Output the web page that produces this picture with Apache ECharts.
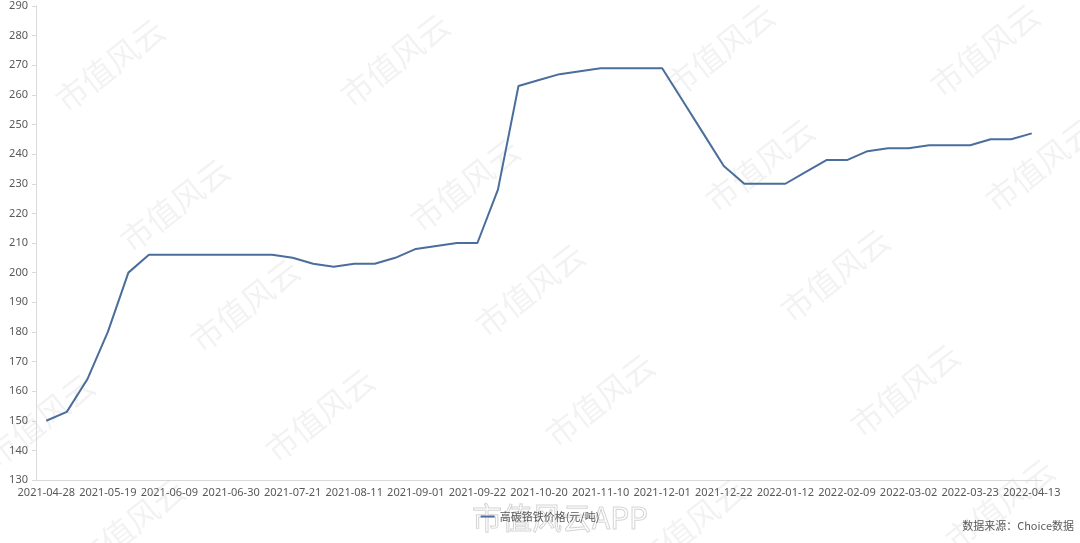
<!DOCTYPE html>
<html>
<head>
<meta charset="utf-8">
<script src="https://cdn.jsdelivr.net/npm/echarts@6/dist/echarts.min.js"></script>
<style>
html,body{margin:0;padding:0;background:#fff;}
#chart{width:1080px;height:543px;}
</style>
</head>
<body>
<div id="chart"></div>
<script>
const dates = [
  '2021-04-28','2021-05-05','2021-05-12','2021-05-19','2021-05-26','2021-06-02','2021-06-09',
  '2021-06-16','2021-06-23','2021-06-30','2021-07-07','2021-07-14','2021-07-21','2021-07-28',
  '2021-08-04','2021-08-11','2021-08-18','2021-08-25','2021-09-01','2021-09-08','2021-09-15',
  '2021-09-22','2021-09-29','2021-10-13','2021-10-20','2021-10-27','2021-11-03','2021-11-10',
  '2021-11-17','2021-11-24','2021-12-01','2021-12-08','2021-12-15','2021-12-22','2021-12-29',
  '2022-01-05','2022-01-12','2022-01-19','2022-01-26','2022-02-09','2022-02-16','2022-02-23',
  '2022-03-02','2022-03-09','2022-03-16','2022-03-23','2022-03-30','2022-04-06','2022-04-13'
];
const prices = [
  150,153,164,180,200,206,206,
  206,206,206,206,206,205,203,
  202,203,203,205,208,209,210,
  210,228,263,265,267,268,269,
  269,269,269,258,247,236,230,
  230,230,234,238,238,241,242,
  242,243,243,243,245,245,247
];
const seriesName = '高碳铬铁价格(元/吨)';
const sourceText = '数据来源：Choice数据';
const watermarkText = '市值风云';
const watermarkPos = [
  [110,65],[395,60],[720,50],[985,50],
  [175,205],[465,185],[760,165],[1040,165],
  [245,305],[530,290],[835,275],
  [40,420],[320,415],[600,400],[905,390],
  [130,525],[690,525],[1000,505]
];

const chart = echarts.init(document.getElementById('chart'));
const wm = watermarkPos.map(p => ({
  type: 'text', x: p[0], y: p[1], rotation: Math.PI * 38 / 180, z: -10,
  style: { text: watermarkText, fill: 'rgba(0,0,0,0.05)', font: '32px "Noto Sans CJK SC"', align: 'center', verticalAlign: 'middle' }
}));
wm.push({
  type: 'text', x: 560, y: 518, z: -10,
  style: { text: '市值风云APP', fill: 'rgba(255,255,255,0)', stroke: 'rgba(0,0,0,0.18)', lineWidth: 1, font: '30px "Noto Sans CJK SC"', align: 'center', verticalAlign: 'middle' }
});
wm.push({
  type: 'text', right: 6, top: 520,
  style: { text: sourceText, fill: '#595959', font: '11px "Noto Sans CJK SC"' }
});

chart.setOption({
  animation: false,
  backgroundColor: '#ffffff',
  grid: { left: 36, right: 38, top: 6, bottom: 63, containLabel: false },
  legend: {
    bottom: 16, left: 'center',
    itemWidth: 14, itemHeight: 2,
    icon: 'rect',
    textStyle: { color: '#595959', fontSize: 11, fontFamily: 'Noto Sans CJK SC' },
    data: [seriesName]
  },
  xAxis: {
    type: 'category',
    data: dates,
    boundaryGap: true,
    axisLine: { lineStyle: { color: '#d9d9d9' } },
    axisTick: { alignWithLabel: true, interval: 2, length: 4, lineStyle: { color: '#d9d9d9' } },
    axisLabel: { interval: 2, color: '#595959', fontSize: 11, fontFamily: 'Noto Sans, sans-serif', margin: 7 },
    splitLine: { show: false }
  },
  yAxis: {
    type: 'value',
    min: 130, max: 290, interval: 10,
    axisLine: { show: true, lineStyle: { color: '#d9d9d9' } },
    axisTick: { show: true, length: 4, lineStyle: { color: '#d9d9d9' } },
    axisLabel: { color: '#595959', fontSize: 11, fontFamily: 'Noto Sans, sans-serif', margin: 8 },
    splitLine: { show: false }
  },
  series: [{
    name: seriesName,
    type: 'line',
    data: prices,
    symbol: 'none',
    lineStyle: { color: '#4a6d9b', width: 2 },
    itemStyle: { color: '#4a6d9b' }
  }],
  graphic: wm
});
</script>
</body>
</html>
